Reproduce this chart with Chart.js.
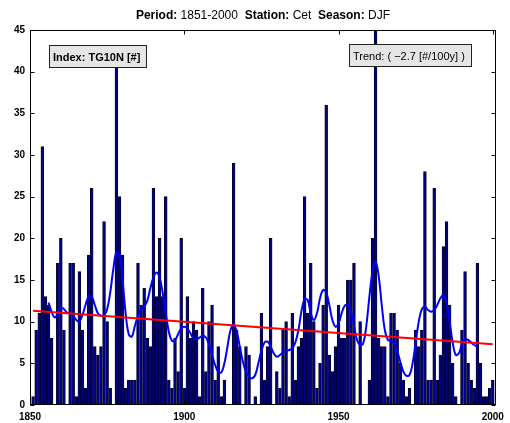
<!DOCTYPE html>
<html>
<head>
<meta charset="utf-8">
<script src="https://cdn.jsdelivr.net/npm/chart.js@4.4.1/dist/chart.umd.min.js"></script>
<style>
  html, body { margin: 0; padding: 0; background: #fff; }
  canvas { display: block; }
</style>
</head>
<body>
<canvas id="chart" width="510" height="423"></canvas>
<script>
// TG10N, station Cet, season DJF, 1851-2000
const firstYear = 1851;
const counts = [
  1, 9, 11, 31, 13, 12, 8, 0, 17, 20,      // 1851-1860
  9, 0, 17, 17, 1, 16, 9, 2, 18, 26,       // 1861-1870
  7, 6, 7, 22, 10, 2, 0, 43, 25, 18,       // 1871-1880
  2, 3, 3, 3, 17, 12, 14, 8, 7, 26,        // 1881-1890
  13, 20, 13, 25, 3, 2, 8, 4, 20, 2,       // 1891-1900
  13, 8, 10, 9, 1, 14, 4, 10, 12, 3,       // 1901-1910
  7, 1, 3, 0, 0, 29, 9, 7, 0, 7,           // 1911-1920
  6, 0, 1, 0, 11, 3, 7, 20, 0, 4,          // 1921-1930
  2, 9, 10, 1, 11, 3, 7, 8, 25, 11,        // 1931-1940
  17, 10, 2, 5, 12, 36, 6, 4, 7, 12,       // 1941-1950
  8, 8, 15, 15, 17, 0, 10, 0, 0, 3,        // 1951-1960
  20, 50, 8, 7, 7, 1, 11, 11, 9, 5,        // 1961-1970
  3, 1, 2, 0, 9, 7, 9, 28, 3, 3,           // 1971-1980
  26, 3, 6, 19, 22, 12, 5, 1, 0, 9,        // 1981-1990
  16, 5, 3, 2, 17, 5, 1, 1, 2, 3           // 1991-2000
];

// smoothed curve, 1856-1995
const smoothStart = 1856;
const smoothed = [
  12.3, 11.2, 10.5, 11.0, 11.7, 11.5, 11.1, 11.0, 10.7, 10.2,   // 1856-1865
  10.0, 10.8, 12.0, 13.0, 13.0, 12.0, 11.0, 10.7, 10.8, 11.5,   // 1866-1875
  13.5, 16.3, 18.3, 18.0, 15.0, 11.0, 8.5, 8.2, 9.5, 10.7,      // 1876-1885
  11.5, 11.8, 12.5, 14.0, 15.3, 15.9, 15.3, 13.5, 11.0, 8.8,    // 1886-1895
  7.7, 7.8, 8.5, 9.2, 9.4, 9.2, 8.6, 8.0, 7.9, 8.1,             // 1896-1905
  8.3, 8.1, 7.3, 6.0, 4.8, 4.0, 3.9, 5.0, 7.0, 9.0,             // 1906-1915
  9.6, 8.8, 7.0, 5.2, 4.0, 3.4, 3.2, 3.6, 5.0, 6.5,             // 1916-1925
  7.5, 7.6, 7.0, 6.2, 5.8, 6.0, 6.3, 6.5, 6.6, 6.8,             // 1926-1935
  7.5, 9.0, 11.3, 12.7, 12.6, 11.0, 10.2, 11.0, 12.8, 13.8,     // 1936-1945
  13.5, 12.0, 10.2, 9.4, 9.8, 11.0, 11.9, 12.0, 11.3, 9.5,      // 1946-1955
  7.8, 7.2, 7.4, 9.5, 13.0, 16.0, 17.2, 15.5, 12.0, 9.0,        // 1956-1965
  7.8, 7.7, 7.4, 6.5, 5.2, 4.0, 3.5, 3.6, 5.0, 7.5,             // 1966-1975
  10.0, 11.5, 11.8, 11.4, 11.2, 11.4, 12.0, 12.8, 13.2, 12.2,   // 1976-1985
  10.0, 7.5, 6.0, 6.2, 7.3, 7.9, 7.8, 7.5, 7.2, 7.0             // 1986-1995
];

// linear trend (-2.7 per 100y)
const trendYears = [1851, 2000];
const trendValues = [11.3, 7.3];

const xTicks = [1850, 1900, 1950, 2000];
const yTicks = [0, 5, 10, 15, 20, 25, 30, 35, 40, 45];

const titleParts = [
  ['Period:', true], [' 1851-2000  ', false],
  ['Station:', true], [' Cet  ', false],
  ['Season:', true], [' DJF', false]
];
const indexLabel = 'Index: TG10N [#]';
const trendLabel = 'Trend: ( \u22122.7 [#/100y] )';

const FONT = '"Liberation Sans", Arial, Helvetica, sans-serif';

const frame = {
  id: 'frame',
  afterDatasetsDraw(chart) {
    const { ctx, chartArea: a, scales: { x, y } } = chart;
    const L = Math.round(a.left) + 0.5, R = Math.round(a.right) - 0.5;
    const T = Math.round(a.top) + 0.5, B = Math.round(a.bottom) - 0.5;
    ctx.save();
    ctx.strokeStyle = '#000';
    ctx.lineWidth = 1;
    ctx.strokeRect(L, T, R - L, B - T);
    ctx.beginPath();
    for (const v of yTicks) {
      const py = Math.round(y.getPixelForValue(v)) + 0.5;
      ctx.moveTo(L, py); ctx.lineTo(L + 4, py);
      ctx.moveTo(R, py); ctx.lineTo(R - 4, py);
    }
    for (const v of xTicks) {
      const px = Math.round(x.getPixelForValue(v)) + 0.5;
      ctx.moveTo(px, B); ctx.lineTo(px, B - 4);
      ctx.moveTo(px, T); ctx.lineTo(px, T + 4);
    }
    ctx.stroke();
    ctx.restore();
  },
  afterDraw(chart) {
    const { ctx, chartArea: a } = chart;
    ctx.save();
    // title with bold keys
    ctx.textBaseline = 'alphabetic';
    let w = 0;
    for (const [t, b] of titleParts) {
      ctx.font = (b ? 'bold ' : '') + '12px ' + FONT;
      w += ctx.measureText(t).width;
    }
    let tx = (a.left + a.right) / 2 - w / 2;
    ctx.fillStyle = '#000';
    for (const [t, b] of titleParts) {
      ctx.font = (b ? 'bold ' : '') + '12px ' + FONT;
      ctx.fillText(t, tx, 19);
      tx += ctx.measureText(t).width;
    }
    // label boxes
    const box = (x0, y0, x1, y1, text, bold) => {
      ctx.fillStyle = '#e6e6e6';
      ctx.fillRect(x0, y0, x1 - x0, y1 - y0);
      ctx.strokeStyle = '#222';
      ctx.lineWidth = 1;
      ctx.strokeRect(x0 + 0.5, y0 + 0.5, x1 - x0 - 1, y1 - y0 - 1);
      ctx.fillStyle = '#000';
      ctx.font = (bold ? 'bold ' : '') + '11px ' + FONT;
      ctx.textBaseline = 'middle';
      ctx.fillText(text, x0 + 4, (y0 + y1) / 2 + 1);
    };
    box(49, 45, 147, 68, indexLabel, true);
    box(349, 44, 472, 67, trendLabel, false);
    ctx.restore();
  }
};

new Chart(document.getElementById('chart'), {
  type: 'bar',
  data: {
    datasets: [
      {
        type: 'line',
        data: trendYears.map((yr, i) => ({ x: yr, y: trendValues[i] })),
        borderColor: '#ff0000',
        borderWidth: 2,
        pointRadius: 0,
        order: 1
      },
      {
        type: 'line',
        data: smoothed.map((v, i) => ({ x: smoothStart + i, y: v })),
        borderColor: '#0000ff',
        borderWidth: 2,
        pointRadius: 0,
        tension: 0.4,
        order: 2
      },
      {
        type: 'bar',
        data: counts.map((v, i) => ({ x: firstYear + i, y: v })),
        backgroundColor: '#000080',
        borderColor: '#000000',
        borderWidth: 0.6,
        barThickness: 2.8,
        clip: 0,
        order: 3
      }
    ]
  },
  options: {
    responsive: false,
    animation: false,
    devicePixelRatio: 1,
    layout: { padding: { left: 0, right: 10, top: 30, bottom: 0 } },
    plugins: { legend: { display: false }, tooltip: { enabled: false }, title: { display: false } },
    scales: {
      x: {
        type: 'linear',
        min: 1850,
        max: 2001,
        offset: false,
        grid: { display: false, drawTicks: false },
        border: { display: false },
        ticks: {
          color: '#000', font: { family: FONT, size: 10, weight: 'bold' },
          padding: 6, maxRotation: 0, autoSkip: false,
          callback: v => String(v)
        },
        afterBuildTicks: s => { s.ticks = xTicks.map(v => ({ value: v })); },
        afterFit: s => { s.height = 18; }
      },
      y: {
        min: 0,
        max: 45,
        grid: { display: false, drawTicks: false },
        border: { display: false },
        ticks: { stepSize: 5, color: '#000', font: { family: FONT, size: 10, weight: 'bold' }, padding: 5 },
        afterBuildTicks: s => { s.ticks = yTicks.map(v => ({ value: v })); },
        afterFit: s => { s.width = 30; }
      }
    }
  },
  plugins: [frame]
});
</script>
</body>
</html>
